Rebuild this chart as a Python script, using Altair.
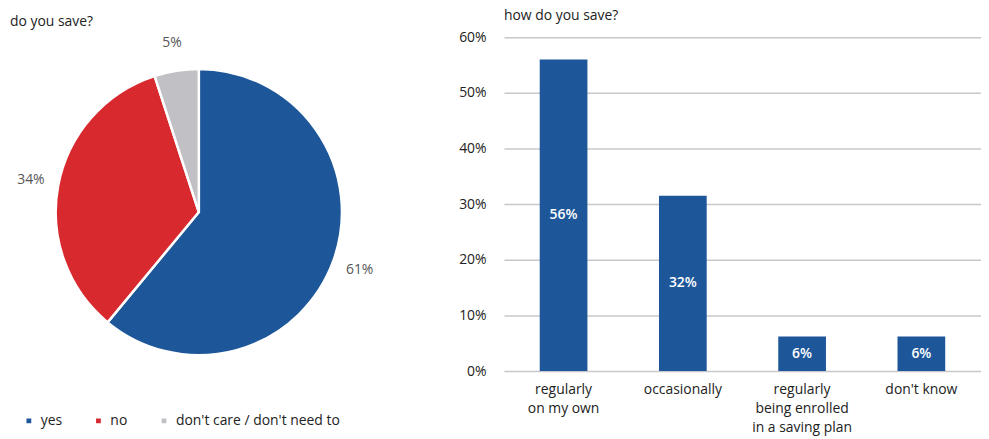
import altair as alt
import pandas as pd

# Pie data
pie_cats = ["yes", "no", "don't care / don't need to"]
pie_vals = [61, 34, 5]
pie_order = [1, 2, 3]
pie_colors = ["#1d5799", "#d8292f", "#c1c1c5"]

# Bar data
bar_cats = ["regularly\non my own", "occasionally", "regularly\nbeing enrolled\nin a saving plan", "don't know"]
bar_vals = [56, 31.5, 6.2, 6.2]
bar_labels = ["56%", "32%", "6%", "6%"]

FONT = "Open Sans"

pie_df = pd.DataFrame({"cat": pie_cats, "val": pie_vals, "ord": pie_order,
                       "label": [f"{v}%" for v in pie_vals]})
bar_df = pd.DataFrame({"cat": bar_cats, "val": bar_vals, "label": bar_labels})

color_scale = alt.Scale(domain=pie_cats, range=pie_colors)

base_pie = alt.Chart(pie_df).encode(
    theta=alt.Theta("val:Q", stack=True),
    order=alt.Order("ord:Q"),
)

NBSP = "\u00a0" * 7

arcs = base_pie.mark_arc(outerRadius=144, stroke="white", strokeWidth=2.5).encode(
    color=alt.Color(
        "cat:N", scale=color_scale, sort=pie_cats,
        legend=alt.Legend(
            title=None, orient="none", direction="horizontal",
            legendX=14, legendY=379, symbolType="square", symbolSize=40,
            labelFont=FONT, labelFontSize=14, labelColor="#222222",
            columnPadding=29, labelOffset=5, labelLimit=300, gridAlign="none",
            labelExpr=f"datum.label == 'no' ? 'no{NBSP}' : datum.label",
        ),
    )
)

pie_text = base_pie.mark_text(radius=172, font=FONT, fontSize=14, color="#555555").encode(
    text="label:N"
)

pie = alt.layer(arcs, pie_text).properties(
    width=384, height=352,
    title=alt.TitleParams("do you save?", anchor="start", frame="group", dx=2,
                          font=FONT, fontSize=14, fontWeight="normal", color="#222222", offset=7),
)

bars = alt.Chart(bar_df).mark_bar(color="#1d5799").encode(
    x=alt.X("cat:N", sort=bar_cats,
            scale=alt.Scale(paddingInner=0.6, paddingOuter=0.3),
            axis=alt.Axis(title=None, labelAngle=0, domain=False, ticks=False,
                          labelExpr="split(datum.label, '\\n')", labelLineHeight=19,
                          labelFont=FONT, labelFontSize=14, labelColor="#222222",
                          labelPadding=12, labelBaseline="top")),
    y=alt.Y("val:Q", scale=alt.Scale(domain=[0, 60]),
            axis=alt.Axis(title=None, values=[0, 10, 20, 30, 40, 50, 60],
                          labelExpr="datum.value + '%'", domain=False, ticks=False,
                          grid=True, gridColor="#c8c8cc", gridWidth=1.5,
                          labelFont=FONT, labelFontSize=14, labelColor="#222222",
                          labelPadding=18)),
)

bar_text = alt.Chart(bar_df).transform_calculate(mid="datum.val / 2").mark_text(
    color="white", font=FONT, fontSize=14, fontWeight=600
).encode(
    x=alt.X("cat:N", sort=bar_cats),
    y=alt.Y("mid:Q"),
    text="label:N",
)

bar_chart = alt.layer(bars, bar_text).properties(
    width=480, height=336,
    title=alt.TitleParams("how do you save?", anchor="start", frame="group",
                          font=FONT, fontSize=14, fontWeight="normal", color="#222222", offset=7),
)

chart = alt.hconcat(pie, bar_chart, spacing=69).properties(padding=0).configure_view(
    stroke=None
)

chart.save("out.html", embed_options={"renderer": "svg", "actions": False})
